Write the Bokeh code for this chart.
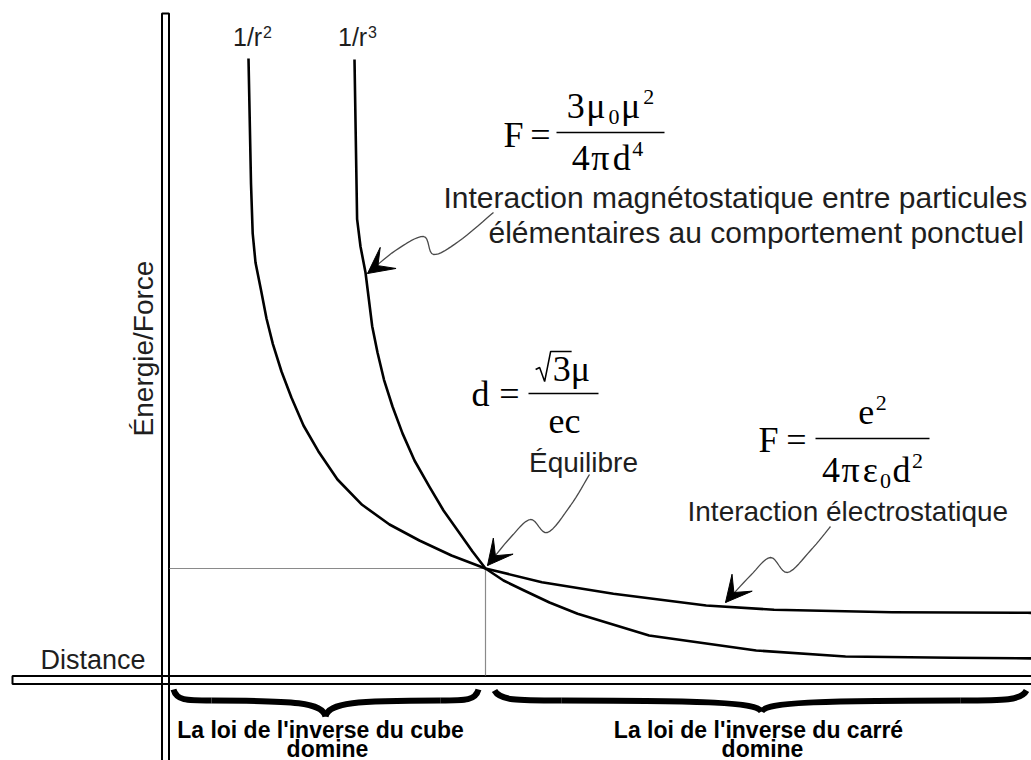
import math
from bokeh.plotting import figure
from bokeh.models import Range1d
from bokeh.core.properties import value
from bokeh.embed import file_html
from bokeh.resources import INLINE

# ---------------- data (arbitrary units: distance / energy-force) ----------------
curve_labels = ["1/r", "1/r"]
curve_powers = ["2", "3"]
dist_r2 = [83, 85.5, 87.2, 90, 95.6, 101, 107.4, 116, 125.9, 138, 152.8, 172, 196.6, 224, 253.9, 286, 320,
           376.4, 447.9, 540.7, 608.6, 726.4, 862, 875]
force_r2 = [621, 496, 446, 417, 389, 361, 335.4, 308, 282, 254, 228.3, 200, 174.7, 155, 139, 124, 111,
            97.3, 85.7, 74, 69.7, 67.3, 66.7, 66.6]
dist_r3 = [189, 191.6, 195, 200, 206.7, 212, 218.5, 227, 237, 249, 264, 278, 294.3, 307, 320, 338, 358.6,
           384, 412.1, 483.6, 590.7, 680, 787, 875]
force_r3 = [620, 460.4, 433, 407, 353.3, 327, 299.7, 273, 246.1, 219, 192.6, 169, 146.1, 128, 111, 99, 89,
            77, 65.7, 44, 29, 23, 21.7, 21]
eq_dist = [320]
eq_force = [111]

# ---------------- layout helpers (page pixel -> plot units) ----------------
W, H = 1031, 760
X0, Y0 = 165, 679


def P(ix, iy):
    return ix - X0, Y0 - iy


p = figure(width=W, height=H, output_backend="svg", toolbar_location=None,
           x_range=Range1d(0 - X0, W - X0), y_range=Range1d(Y0 - H, Y0),
           x_axis_location=None, y_axis_location=None, min_border=0)
p.grid.visible = False
p.outline_line_color = None
p.background_fill_color = "white"
p.border_fill_color = "white"

SANS = "Liberation Sans"
SERIF = "Liberation Serif"


def txt(ix, iy, s, size, font=SANS, style="normal", align="center",
        baseline="middle", angle=0.0, color="#1e1e1e"):
    x, y = P(ix, iy)
    p.text([x], [y], text=[s], text_font=value(font), text_font_size=f"{size}px",
           text_font_style=style, text_align=align, text_baseline=baseline,
           angle=angle, text_color=color)


def seg(pts, color="black", width=2.0):
    xs, ys = zip(*[P(a, b) for a, b in pts])
    p.line(list(xs), list(ys), line_color=color, line_width=width)


def smooth(pts, n=8):
    # Catmull-Rom path through the given annotation points (layout only)
    out = []
    ext = [pts[0]] + list(pts) + [pts[-1]]
    for i in range(1, len(ext) - 2):
        p0, p1, p2, p3 = ext[i - 1], ext[i], ext[i + 1], ext[i + 2]
        for k in range(n):
            t = k / n
            t2, t3 = t * t, t * t * t
            out.append(tuple(0.5 * ((2 * p1[j]) + (-p0[j] + p2[j]) * t +
                                    (2 * p0[j] - 5 * p1[j] + 4 * p2[j] - p3[j]) * t2 +
                                    (-p0[j] + 3 * p1[j] - 3 * p2[j] + p3[j]) * t3) for j in (0, 1)))
    out.append(pts[-1])
    return out


# ---------------- double-line axes ----------------
seg([(161.5, 780), (161.5, 13), (168.5, 13), (168.5, 780)], width=2)
seg([(1045, 675.5), (12, 675.5), (12, 683.5), (1045, 683.5)], width=2)

# equilibrium guide lines
ex, ey = eq_dist[0], eq_force[0]
p.line([4, ex], [ey, ey], line_color="#8a8a8a", line_width=1.2)
p.line([ex, ex], [4, ey], line_color="#8a8a8a", line_width=1.2)

# ---------------- curves ----------------
p.line(dist_r2, force_r2, line_color="black", line_width=2.6, line_join="round")
p.line(dist_r3, force_r3, line_color="black", line_width=2.6, line_join="round")

# curve labels (1/r with a raised power)
for lab, pw, xs in zip(curve_labels, curve_powers, (232.5, 337.5)):
    txt(xs, 36, lab, 25, align="left")
    txt(xs + 30, 31, pw, 16, align="left")


# ---------------- arrows ----------------
def arrow(shaft, tip, ang_deg, L=29, half=27):
    seg(smooth(shaft), color="#4a4a4a", width=1.3)
    a = math.radians(ang_deg)
    ux, uy = math.cos(a), math.sin(a)
    h = math.radians(half)
    pts = []
    for sgn in (1, -1):
        c, s = math.cos(sgn * h), math.sin(sgn * h)
        pts.append((tip[0] + L * (ux * c - uy * s), tip[1] + L * (ux * s + uy * c)))
    notch = (tip[0] + 0.45 * L * ux, tip[1] + 0.45 * L * uy)
    poly = [tip, pts[0], notch, pts[1]]
    xs, ys = zip(*[P(a_, b_) for a_, b_ in poly])
    p.patch(list(xs), list(ys), fill_color="black", line_color="black", line_width=1)


arrow([(367, 273), (395, 250), (423, 236), (433, 254), (458, 241), (493, 212)], (367, 273), -37)
arrow([(487, 565), (510, 537), (530, 519), (547, 532), (570, 505), (589, 474)], (487, 565), -51, L=28)
arrow([(725, 602), (750, 575), (770, 557), (787, 572), (810, 550), (830, 526)], (725, 602), -50)

# ---------------- formulas (equation-editor style pieces) ----------------
ADV = {"3": 0.5, "4": 0.5, "0": 0.5, "2": 0.5, "μ": 0.576, "π": 0.549, "d": 0.5, "e": 0.444,
       "c": 0.444, "ε": 0.439, "√": 0.549}
FS, SS = 36, 22
CAP = 0.331  # half cap-height (serif), used to place pieces by their baseline


def eq(pieces, xc, base, gap=1.5, lead=0.0):
    widths = [ADV[s] * (FS if k == "n" else SS) for s, k in pieces]
    total = lead + sum(widths) + gap * (len(pieces) - 1)
    x = xc - total / 2.0
    start = x
    x += lead
    spans = []
    for (s, k), w in zip(pieces, widths):
        if k == "n":
            b, size = base, FS
        elif k == "sub":
            b, size = base + 0.2 * FS, SS
        else:
            b, size = base - 0.36 * FS, SS
        txt(x, b - CAP * size, s, size, font=SERIF, align="left", baseline="middle", color="black")
        spans.append((x, x + w))
        x += w + gap
    return start, spans


# F = 3 mu0 mu^2 / 4 pi d^4
txt(513, 134, "F", FS, font=SERIF, color="black")
txt(540, 134, "=", FS, font=SERIF, color="black")
seg([(556, 132), (664, 132)], width=1.6)
eq([("3", "n"), ("μ", "n"), ("0", "sub"), ("μ", "n"), ("2", "sup")], 610, 117)
eq([("4", "n"), ("π", "n"), ("d", "n"), ("4", "sup")], 607, 169)

txt(443, 197, "Interaction magnétostatique entre particules", 30, align="left")
txt(488, 232, "élémentaires au comportement ponctuel", 30, align="left")

# d = sqrt(3) mu / e c
txt(480, 393, "d", FS, font=SERIF, color="black")
txt(509, 393, "=", FS, font=SERIF, color="black")
seg([(528, 393), (598, 393)], width=1.6)
rb = 380
x0r, sp = eq([("3", "n"), ("μ", "n")], 563, rb, gap=0, lead=17)
seg([(x0r, rb - 11), (x0r + 4, rb - 13), (x0r + 9, rb + 1), (x0r + 15, rb - 29),
     (sp[0][1] + 1, rb - 29)], width=1.5)
eq([("e", "n"), ("c", "n")], 564, 432, gap=0)
txt(583, 462, "Équilibre", 28)

# F = e^2 / 4 pi eps0 d^2
txt(768, 439, "F", FS, font=SERIF, color="black")
txt(796, 439, "=", FS, font=SERIF, color="black")
seg([(815, 438), (929, 438)], width=1.6)
eq([("e", "n"), ("2", "sup")], 872, 423)
eq([("4", "n"), ("π", "n"), ("ε", "n"), ("0", "sub"), ("d", "n"), ("2", "sup")], 872, 481)
txt(687, 511, "Interaction électrostatique", 28, align="left")

# axis titles
txt(143, 348, "Énergie/Force", 28, angle=math.pi / 2)
txt(145, 659, "Distance", 27, align="right")


# ---------------- braces ----------------
def brace(x0, x1, ytop, ymid, ycusp, xm=None):
    if xm is None:
        xm = (x0 + x1) / 2.0
    segs = []
    wl = xm - x0
    wr = x1 - xm
    segs.append(((x0, ytop), (x0 + 0.25 * wl, ymid), (x0 + 0.02 * wl, ymid), (x0 + 0.08 * wl, ymid)))
    segs.append(((x0 + 0.25 * wl, ymid), (xm, ycusp), (xm - 0.2 * wl, ymid), (xm - 0.02 * wl, ymid + 2)))
    segs.append(((xm, ycusp), (x1 - 0.25 * wr, ymid), (xm + 0.02 * wr, ymid + 2), (xm + 0.2 * wr, ymid)))
    segs.append(((x1 - 0.25 * wr, ymid), (x1, ytop), (x1 - 0.08 * wr, ymid), (x1 - 0.02 * wr, ymid)))
    for s0, s1, c0, c1 in segs:
        a0, b0 = P(*s0)
        a1, b1 = P(*s1)
        ca, cb = P(*c0)
        da, db = P(*c1)
        p.bezier(x0=[a0], y0=[b0], x1=[a1], y1=[b1], cx0=[ca], cy0=[cb], cx1=[da], cy1=[db],
                 line_color="black", line_width=6)


brace(173, 478, 689, 700, 716, xm=325)
brace(494, 1026, 690, 700, 711, xm=761)

txt(320, 729, "La loi de l'inverse du cube", 23, style="bold", color="black")
txt(327, 748, "domine", 23, style="bold", color="black")
txt(758, 729, "La loi de l'inverse du carré", 23, style="bold", color="black")
txt(762, 748, "domine", 23, style="bold", color="black")

open("out.html", "w").write(file_html(p, INLINE))
